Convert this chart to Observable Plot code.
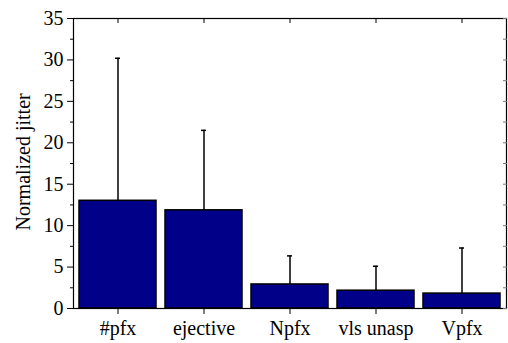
<!DOCTYPE html>
<html>
<head>
<meta charset="utf-8">
<script src="https://cdn.jsdelivr.net/npm/d3@7"></script>
<script src="https://cdn.jsdelivr.net/npm/@observablehq/plot@0.6"></script>
</head>
<body style="margin:0">
<div id="chart"></div>
<script>
const categories = ["#pfx", "ejective", "Npfx", "vls unasp", "Vpfx"];
const means = [13.0, 11.85, 2.9, 2.15, 1.8];
const upper = [30.2, 21.5, 6.35, 5.1, 7.3];
const majorTicks = [0, 5, 10, 15, 20, 25, 30, 35];
const minorTicks = [2.5, 7.5, 12.5, 17.5, 22.5, 27.5, 32.5];
const yLabel = "Normalized jitter";

const data = categories.map((c, i) => ({cat: c, mean: means[i], up: upper[i]}));
const font = "Liberation Serif, Times New Roman, serif";

const chart = Plot.plot({
  width: 508,
  height: 343,
  marginLeft: 73,
  marginRight: 2,
  marginTop: 18,
  marginBottom: 35,
  style: {fontFamily: font},
  x: {domain: categories, paddingInner: 0.11, paddingOuter: 0.055},
  y: {domain: [0, 35]},
  marks: [
    Plot.barY(data, {x: "cat", y: "mean", fill: "#000088", stroke: "black", strokeWidth: 1.5}),
    Plot.ruleX(data, {x: "cat", y1: "mean", y2: "up", stroke: "black", strokeWidth: 1.5}),
    Plot.tickY(data, {x: "cat", y: "up", stroke: "black", strokeWidth: 1.5, insetLeft: 36, insetRight: 36}),
    Plot.frame({stroke: "black", strokeWidth: 1.2}),
    Plot.axisY({anchor: "left", ticks: majorTicks, tickSize: 6, tickPadding: 4, fontSize: 20, fontFamily: font, label: null}),
    Plot.axisY({anchor: "left", ticks: minorTicks, tickSize: 3, tickFormat: () => "", label: null}),
    Plot.axisY({anchor: "right", ticks: majorTicks.concat(minorTicks), tickSize: -4, tickFormat: () => "", label: null, stroke: "#777"}),
    Plot.text([yLabel], {frameAnchor: "left", rotate: -90, textAnchor: "start", dx: -50, dy: 67, fontSize: 20, fontFamily: font, fill: "black"}),
    Plot.axisX({anchor: "bottom", tickSize: 6, tickPadding: 6, fontSize: 20, fontFamily: font, label: null}),
    Plot.axisX({anchor: "top", tickSize: -4, tickFormat: () => "", label: null})
  ]
});
chart.querySelectorAll("text").forEach(t => {
  t.setAttribute("font-family", font);
  t.setAttribute("font-size", "20");
});
document.getElementById("chart").appendChild(chart);
</script>
</body>
</html>
